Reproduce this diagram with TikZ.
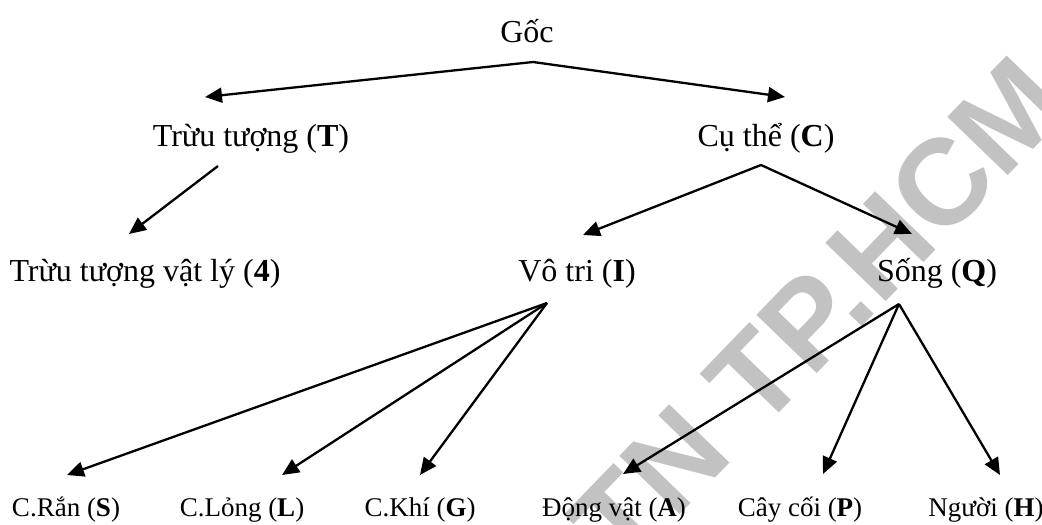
\documentclass[tikz,border=0pt]{standalone}
\usepackage{fontspec}
\setmainfont{Liberation Serif}
\newfontfamily\wmfont{Liberation Sans}
\usetikzlibrary{arrows.meta}
\tikzset{
  lab/.style={anchor=base, inner sep=0pt, font=\fontsize{32}{38}\selectfont},
  leaf/.style={anchor=base, inner sep=0pt, font=\fontsize{27}{32}\selectfont},
  arr/.style={line width=2.3pt, -{Triangle[length=17pt,width=15pt]}},
  wm/.style={text=black!24, font=\wmfont\bfseries\fontsize{122}{126}\selectfont, inner sep=0pt}
}
\begin{document}
\begin{tikzpicture}[x=1pt,y=-1pt]
\useasboundingbox (0,0) rectangle (1042,525);
\fill[white] (0,0) rectangle (1042,525);
\begin{scope}
\clip (0,0) rectangle (1042,525);
\node[wm, rotate=46] (wmark) at (818,312) {TN TP.HCM};
\end{scope}
% labels
\node[lab] (root) at (527,42) {Gốc};
\node[lab] (T) at (251,146) {Trừu tượng (\textbf{T})};
\node[lab] (C) at (766,146) {Cụ thể (\textbf{C})};
\node[lab] (F) at (145,281) {Trừu tượng vật lý (\textbf{4})};
\node[lab] (I) at (577,281) {Vô tri (\textbf{I})};
\node[lab] (Q) at (937,281) {Sống (\textbf{Q})};
\node[leaf] (S) at (66,516) {C.Rắn (\textbf{S})};
\node[leaf] (L) at (242,516) {C.Lỏng (\textbf{L})};
\node[leaf] (G) at (420,516) {C.Khí (\textbf{G})};
\node[leaf] (A) at (614,516) {Động vật (\textbf{A})};
\node[leaf] (P) at (800,516) {Cây cối (\textbf{P})};
\node[leaf] (H) at (986,516) {Người (\textbf{H})};
% fork points and arrow tips
\coordinate (r0) at (533,62);
\coordinate (rT) at (205,97);
\coordinate (rC) at (785,97);
\coordinate (t0) at (218,166);
\coordinate (tF) at (129,234);
\coordinate (c0) at (761,165);
\coordinate (cI) at (583,235);
\coordinate (cQ) at (912,234);
\coordinate (i0) at (547,303);
\coordinate (iS) at (67,475);
\coordinate (iL) at (282,475);
\coordinate (iG) at (420,475);
\coordinate (q0) at (899,304);
\coordinate (qA) at (623,474);
\coordinate (qP) at (823,474);
\coordinate (qH) at (1000,475);
\draw[arr] (r0) -- (rT);
\draw[arr] (r0) -- (rC);
\draw[arr] (t0) -- (tF);
\draw[arr] (c0) -- (cI);
\draw[arr] (c0) -- (cQ);
\draw[arr] (i0) -- (iS);
\draw[arr] (i0) -- (iL);
\draw[arr] (i0) -- (iG);
\draw[arr] (q0) -- (qA);
\draw[arr] (q0) -- (qP);
\draw[arr] (q0) -- (qH);
\end{tikzpicture}
\end{document}
